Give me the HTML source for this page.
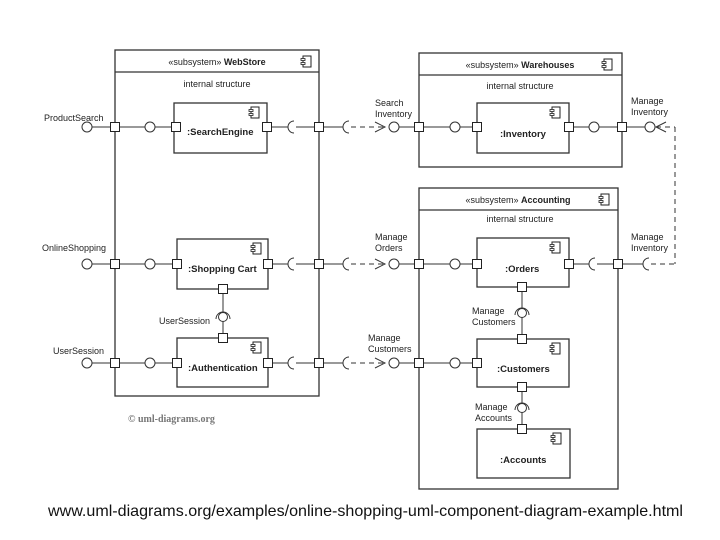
<!DOCTYPE html>
<html><head><meta charset="utf-8"><style>
html,body{margin:0;padding:0;background:#fff;}
svg{display:block;font-family:"Liberation Sans",sans-serif;}
</style></head><body>
<svg width="720" height="540" viewBox="0 0 720 540" xmlns="http://www.w3.org/2000/svg">
<defs>
<g id="ic"><rect x="2" y="0" width="8" height="11" fill="#fff" stroke="#222" stroke-width="1"/><rect x="0" y="2.5" width="4" height="2" fill="#fff" stroke="#222" stroke-width="0.8"/><rect x="0" y="6.5" width="4" height="2" fill="#fff" stroke="#222" stroke-width="0.8"/></g>
<rect id="pt" x="-4.5" y="-4.5" width="9" height="9" fill="#fff" stroke="#222" stroke-width="1"/>
</defs>
<g stroke="#333" stroke-width="1.3" fill="none">
<rect x="115" y="50" width="204" height="346"/><line x1="115" y1="72" x2="319" y2="72"/>
<rect x="419" y="53" width="203" height="114"/><line x1="419" y1="75" x2="622" y2="75"/>
<rect x="419" y="188" width="199" height="301"/><line x1="419" y1="210" x2="618" y2="210"/>
<rect x="174" y="103" width="93" height="50"/>
<rect x="177" y="239" width="91" height="50"/>
<rect x="177" y="338" width="91" height="49"/>
<rect x="477" y="103" width="92" height="50"/>
<rect x="477" y="238" width="92" height="49"/>
<rect x="477" y="339" width="92" height="48"/>
<rect x="477" y="429" width="93" height="49"/>
</g>
<g stroke="#333" stroke-width="1" fill="none">
<line x1="92" y1="127" x2="145" y2="127"/><line x1="155" y1="127" x2="174" y2="127"/>
<circle cx="87" cy="127" r="5" fill="#fff"/><circle cx="150" cy="127" r="5" fill="#fff"/>
<line x1="267" y1="127" x2="288" y2="127"/><path d="M294 121 A6 6 0 0 0 294 133"/><line x1="296" y1="127" x2="343" y2="127"/>
<path d="M349 121 A6 6 0 0 0 349 133"/><line x1="351" y1="127" x2="384" y2="127" stroke-dasharray="5,4"/>
<path d="M375 122 L385 127 L375 132"/>
<circle cx="394" cy="127" r="5" fill="#fff"/><line x1="399" y1="127" x2="450" y2="127"/>
<circle cx="455" cy="127" r="5" fill="#fff"/><line x1="460" y1="127" x2="477" y2="127"/>
<line x1="569" y1="127" x2="589" y2="127"/><circle cx="594" cy="127" r="5" fill="#fff"/><line x1="599" y1="127" x2="645" y2="127"/>
<circle cx="650" cy="127" r="5" fill="#fff"/><path d="M666 122 L656 127 L666 132"/>
<line x1="656" y1="127" x2="675" y2="127" stroke-dasharray="5,4"/>
<line x1="675" y1="127" x2="675" y2="264" stroke-dasharray="5,4"/>
<line x1="92" y1="264" x2="145" y2="264"/><line x1="155" y1="264" x2="177" y2="264"/>
<circle cx="87" cy="264" r="5" fill="#fff"/><circle cx="150" cy="264" r="5" fill="#fff"/>
<line x1="268" y1="264" x2="288" y2="264"/><path d="M294 258 A6 6 0 0 0 294 270"/><line x1="296" y1="264" x2="343" y2="264"/>
<path d="M349 258 A6 6 0 0 0 349 270"/><line x1="351" y1="264" x2="384" y2="264" stroke-dasharray="5,4"/>
<path d="M375 259 L385 264 L375 269"/>
<circle cx="394" cy="264" r="5" fill="#fff"/><line x1="399" y1="264" x2="450" y2="264"/>
<circle cx="455" cy="264" r="5" fill="#fff"/><line x1="460" y1="264" x2="477" y2="264"/>
<line x1="569" y1="264" x2="589" y2="264"/><path d="M595 258 A6 6 0 0 0 595 270"/><line x1="597" y1="264" x2="643" y2="264"/>
<path d="M649 258 A6 6 0 0 0 649 270"/><line x1="651" y1="264" x2="675" y2="264" stroke-dasharray="5,4"/>
<line x1="92" y1="363" x2="145" y2="363"/><line x1="155" y1="363" x2="177" y2="363"/>
<circle cx="87" cy="363" r="5" fill="#fff"/><circle cx="150" cy="363" r="5" fill="#fff"/>
<line x1="268" y1="363" x2="288" y2="363"/><path d="M294 357 A6 6 0 0 0 294 369"/><line x1="296" y1="363" x2="343" y2="363"/>
<path d="M349 357 A6 6 0 0 0 349 369"/><line x1="351" y1="363" x2="384" y2="363" stroke-dasharray="5,4"/>
<path d="M375 358 L385 363 L375 368"/>
<circle cx="394" cy="363" r="5" fill="#fff"/><line x1="399" y1="363" x2="450" y2="363"/>
<circle cx="455" cy="363" r="5" fill="#fff"/><line x1="460" y1="363" x2="477" y2="363"/>
<line x1="223" y1="289" x2="223" y2="338"/><circle cx="223" cy="317" r="4.5" fill="#fff"/><path d="M216 319 A7 7 0 0 1 230 319"/>
<line x1="522" y1="287" x2="522" y2="339"/><circle cx="522" cy="313" r="4.5" fill="#fff"/><path d="M515 315 A7 7 0 0 1 529 315"/>
<line x1="522" y1="387" x2="522" y2="429"/><circle cx="522" cy="408" r="4.5" fill="#fff"/><path d="M515 410 A7 7 0 0 1 529 410"/>
</g>
<g>
<use href="#pt" x="115" y="127"/><use href="#pt" x="176" y="127"/><use href="#pt" x="267" y="127"/><use href="#pt" x="319" y="127"/>
<use href="#pt" x="419" y="127"/><use href="#pt" x="477" y="127"/><use href="#pt" x="569" y="127"/><use href="#pt" x="622" y="127"/>
<use href="#pt" x="115" y="264"/><use href="#pt" x="177" y="264"/><use href="#pt" x="268" y="264"/><use href="#pt" x="319" y="264"/>
<use href="#pt" x="419" y="264"/><use href="#pt" x="477" y="264"/><use href="#pt" x="569" y="264"/><use href="#pt" x="618" y="264"/>
<use href="#pt" x="115" y="363"/><use href="#pt" x="177" y="363"/><use href="#pt" x="268" y="363"/><use href="#pt" x="319" y="363"/>
<use href="#pt" x="419" y="363"/><use href="#pt" x="477" y="363"/>
<use href="#pt" x="223" y="289"/><use href="#pt" x="223" y="338"/>
<use href="#pt" x="522" y="287"/><use href="#pt" x="522" y="339"/><use href="#pt" x="522" y="387"/><use href="#pt" x="522" y="429"/>
</g>
<use href="#ic" x="301" y="56"/><use href="#ic" x="602" y="59"/><use href="#ic" x="599" y="194"/>
<use href="#ic" x="249" y="107"/><use href="#ic" x="251" y="243"/><use href="#ic" x="251" y="342"/>
<use href="#ic" x="550" y="107"/><use href="#ic" x="550" y="242"/><use href="#ic" x="550" y="343"/><use href="#ic" x="551" y="433"/>
<g font-size="9" fill="#222">
<text x="217" y="65" text-anchor="middle">«subsystem» <tspan font-weight="bold">WebStore</tspan></text>
<text x="217" y="87" text-anchor="middle">internal structure</text>
<text x="520" y="68" text-anchor="middle">«subsystem» <tspan font-weight="bold">Warehouses</tspan></text>
<text x="520" y="89" text-anchor="middle">internal structure</text>
<text x="518" y="203" text-anchor="middle">«subsystem» <tspan font-weight="bold">Accounting</tspan></text>
<text x="520" y="222" text-anchor="middle">internal structure</text>
<g font-weight="bold" font-size="9.5">
<text x="187" y="135">:SearchEngine</text>
<text x="188" y="272">:Shopping Cart</text>
<text x="188" y="371">:Authentication</text>
<text x="500" y="137">:Inventory</text>
<text x="505" y="272">:Orders</text>
<text x="497" y="372">:Customers</text>
<text x="500" y="463">:Accounts</text>
</g>
<text x="44" y="121">ProductSearch</text>
<text x="42" y="251">OnlineShopping</text>
<text x="53" y="354">UserSession</text>
<text x="159" y="324">UserSession</text>
<text x="375" y="106">Search</text><text x="375" y="117">Inventory</text>
<text x="375" y="240">Manage</text><text x="375" y="251">Orders</text>
<text x="368" y="341">Manage</text><text x="368" y="352">Customers</text>
<text x="631" y="104">Manage</text><text x="631" y="115">Inventory</text>
<text x="631" y="240">Manage</text><text x="631" y="251">Inventory</text>
<text x="472" y="314">Manage</text><text x="472" y="325">Customers</text>
<text x="475" y="410">Manage</text><text x="475" y="421">Accounts</text>
</g>
<text x="128" y="422" font-family="Liberation Serif,serif" font-size="10" font-weight="bold" fill="#777">© uml-diagrams.org</text>
<text x="48" y="516" font-size="16" fill="#111" textLength="635" lengthAdjust="spacingAndGlyphs">www.uml-diagrams.org/examples/online-shopping-uml-component-diagram-example.html</text>
</svg>
</body></html>
